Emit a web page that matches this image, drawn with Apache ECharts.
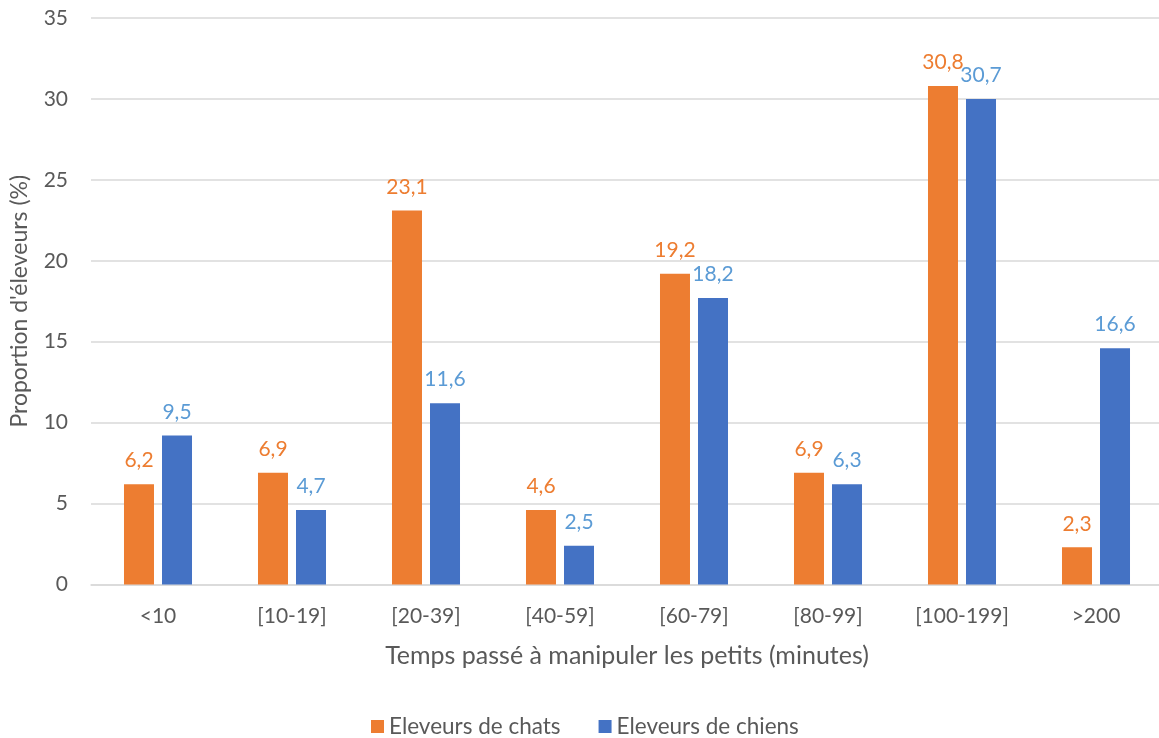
<!DOCTYPE html>
<html>
<head>
<meta charset="utf-8">
<script src="https://cdn.jsdelivr.net/npm/echarts@6/dist/echarts.min.js"></script>
<style>
html,body{margin:0;padding:0;background:#fff;overflow:hidden;}
#chart{width:1163px;height:738px;}
</style>
</head>
<body>
<div id="chart"></div>
<script>
var categories = ['<10', '[10-19]', '[20-39]', '[40-59]', '[60-79]', '[80-99]', '[100-199]', '>200'];
var seriesNames = ['Eleveurs de chats', 'Eleveurs de chiens'];
var chatsValues = [6.2, 6.9, 23.1, 4.6, 19.2, 6.9, 30.8, 2.3];
var chiensValues = [9.2, 4.6, 11.2, 2.4, 17.7, 6.2, 30.0, 14.6];
var chatsLabels = ['6,2', '6,9', '23,1', '4,6', '19,2', '6,9', '30,8', '2,3'];
var chiensLabels = ['9,5', '4,7', '11,6', '2,5', '18,2', '6,3', '30,7', '16,6'];
var yTicks = [0, 5, 10, 15, 20, 25, 30, 35];

var FONT = 'Lato';
var TXT = '#595959';
var chart = echarts.init(document.getElementById('chart'), null, {renderer: 'canvas'});
chart.setOption({
  animation: false,
  backgroundColor: '#ffffff',
  textStyle: {fontFamily: FONT},
  grid: {left: 91, right: 0, top: 18, bottom: 153.5, containLabel: false},
  legend: {
    top: 710, left: 366,
    itemWidth: 13, itemHeight: 13, itemGap: 38,
    icon: 'rect',
    textStyle: {fontFamily: FONT, fontSize: 22.5, color: TXT},
    data: seriesNames
  },
  xAxis: {
    type: 'category',
    data: categories,
    name: 'Temps passé à manipuler les petits (minutes)',
    nameLocation: 'middle',
    nameGap: 59,
    nameTextStyle: {fontFamily: FONT, fontSize: 25, color: TXT},
    axisLine: {show: true, lineStyle: {color: '#D9D9D9', width: 1.5}},
    axisTick: {show: false},
    axisLabel: {fontFamily: FONT, fontSize: 21, color: TXT, margin: 21}
  },
  yAxis: {
    type: 'value',
    min: yTicks[0], max: yTicks[yTicks.length - 1], interval: 5,
    name: "Proportion d'éleveurs (%)",
    nameLocation: 'middle',
    nameGap: 60,
    nameTextStyle: {fontFamily: FONT, fontSize: 23, color: TXT},
    axisLine: {show: false},
    axisTick: {show: false},
    axisLabel: {fontFamily: FONT, fontSize: 21, color: TXT, margin: 23},
    splitLine: {lineStyle: {color: '#D9D9D9', width: 1.5}}
  },
  series: [
    {
      name: seriesNames[0], type: 'bar', data: chatsValues,
      barWidth: 30, barGap: '26.7%',
      itemStyle: {color: '#ED7D31'},
      label: {show: true, position: 'top', distance: 13, fontFamily: FONT, fontSize: 21, color: '#ED7D31',
        formatter: function (p) { return chatsLabels[p.dataIndex]; }}
    },
    {
      name: seriesNames[1], type: 'bar', data: chiensValues,
      barWidth: 30, barGap: '26.7%',
      itemStyle: {color: '#4472C4'},
      label: {show: true, position: 'top', distance: 13, fontFamily: FONT, fontSize: 21, color: '#5B9BD5',
        formatter: function (p) { return chiensLabels[p.dataIndex]; }}
    }
  ]
});
</script>
</body>
</html>
